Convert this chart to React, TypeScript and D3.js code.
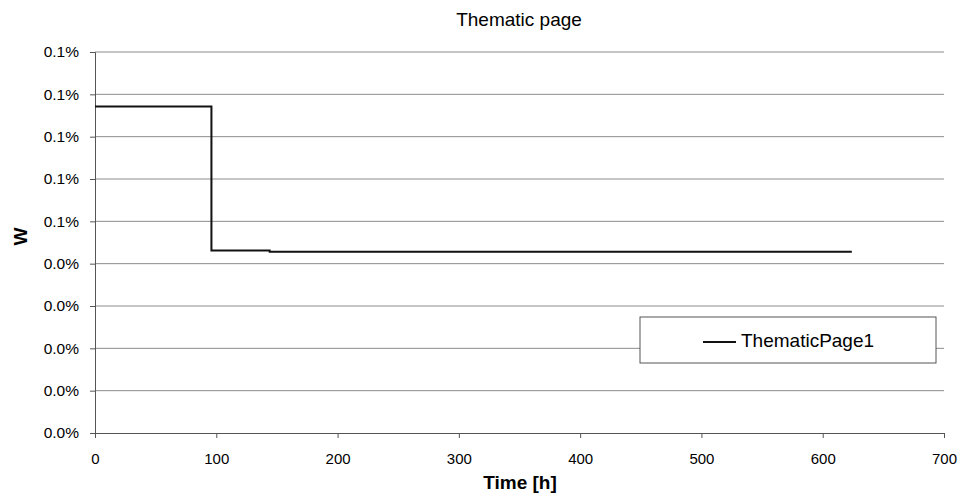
import React, { useEffect, useRef } from 'react';
import * as d3 from 'd3';

// step series (time in h, W as fraction)
const times = [0, 96, 96, 144, 144, 624];
const values = [0.000771, 0.000771, 0.000431, 0.000431, 0.000428, 0.000428];

const yTicks = [0, 0.0001, 0.0002, 0.0003, 0.0004, 0.0005, 0.0006, 0.0007, 0.0008, 0.0009];
const yTickLabels = ['0.0%', '0.0%', '0.0%', '0.0%', '0.0%', '0.1%', '0.1%', '0.1%', '0.1%', '0.1%'];
const xTicks = [0, 100, 200, 300, 400, 500, 600, 700];

const seriesName = 'ThematicPage1';
const FONT = '"Liberation Sans", Arial, sans-serif';

export default function App() {
  const svgRef = useRef<SVGSVGElement>(null);

  useEffect(() => {
    document.body.style.margin = '0';
    if (!svgRef.current) return;
    const width = 959;
    const height = 497;
    const margin = { top: 52, right: 15, bottom: 64, left: 95 };

    const svg = d3.select(svgRef.current);
    svg.selectAll('*').remove();

    const x = d3.scaleLinear().domain([0, 700]).range([margin.left, width - margin.right]);
    const y = d3.scaleLinear().domain([0, 0.0009]).range([height - margin.bottom, margin.top]);

    // gridlines
    svg.append('g')
      .selectAll('line')
      .data(yTicks.slice(1))
      .enter()
      .append('line')
      .attr('x1', x(0))
      .attr('x2', x(700))
      .attr('y1', d => y(d))
      .attr('y2', d => y(d))
      .attr('stroke', '#8c8c8c')
      .attr('stroke-width', 1);

    // y axis
    const yAxis = svg.append('g')
      .attr('transform', `translate(${x(0)},0)`)
      .call(d3.axisLeft(y).tickValues(yTicks).tickSize(5).tickPadding(11)
        .tickFormat((_, i) => yTickLabels[i]));
    yAxis.selectAll('path, line').attr('stroke', '#555');
    yAxis.selectAll('text')
      .attr('font-family', FONT)
      .attr('font-size', 15.5)
      .attr('fill', '#000');

    // x axis
    const xAxis = svg.append('g')
      .attr('transform', `translate(0,${y(0)})`)
      .call(d3.axisBottom(x).tickValues(xTicks).tickSize(5).tickPadding(15)
        .tickFormat(d3.format('d') as any));
    xAxis.selectAll('path, line').attr('stroke', '#555');
    xAxis.selectAll('text')
      .attr('font-family', FONT)
      .attr('font-size', 15)
      .attr('fill', '#000');

    // series
    const line = d3.line<number>()
      .x((_, i) => x(times[i]))
      .y(d => y(d));

    svg.append('path')
      .datum(values)
      .attr('fill', 'none')
      .attr('stroke', '#111')
      .attr('stroke-width', 2)
      .attr('d', line);

    // title + axis titles
    svg.append('text')
      .attr('x', 519)
      .attr('y', 26)
      .attr('text-anchor', 'middle')
      .attr('font-family', FONT)
      .attr('font-size', 19)
      .text('Thematic page');

    svg.append('text')
      .attr('transform', `translate(27,${(y(0) + y(0.0009)) / 2 - 6}) rotate(-90)`)
      .attr('text-anchor', 'middle')
      .attr('font-family', FONT)
      .attr('font-size', 19)
      .attr('font-weight', 'bold')
      .text('W');

    svg.append('text')
      .attr('x', 520)
      .attr('y', 489)
      .attr('text-anchor', 'middle')
      .attr('font-family', FONT)
      .attr('font-size', 19)
      .attr('font-weight', 'bold')
      .text('Time [h]');

    // legend
    const lg = svg.append('g').attr('transform', 'translate(640,317)');
    lg.append('rect')
      .attr('width', 296)
      .attr('height', 46)
      .attr('fill', '#fff')
      .attr('stroke', '#555')
      .attr('stroke-width', 1);
    lg.append('line')
      .attr('x1', 63)
      .attr('x2', 96)
      .attr('y1', 25)
      .attr('y2', 25)
      .attr('stroke', '#111')
      .attr('stroke-width', 2);
    lg.append('text')
      .attr('x', 101)
      .attr('y', 30)
      .attr('font-family', FONT)
      .attr('font-size', 19)
      .text(seriesName);
  }, []);

  return <svg ref={svgRef} width={959} height={497} style={{ display: 'block', background: '#fff' }} />;
}
